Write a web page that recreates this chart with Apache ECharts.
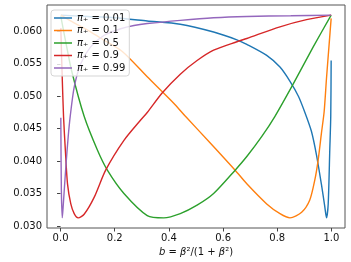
<!DOCTYPE html>
<html>
<head>
<meta charset="utf-8">
<script src="https://cdn.jsdelivr.net/npm/echarts@6/dist/echarts.min.js"></script>
<style>
html,body{margin:0;padding:0;background:#fff;}
#c{width:351px;height:262px;}
</style>
</head>
<body>
<div id="c"></div>
<script>
// ---- data ----
const seriesNames = ['0.01', '0.1', '0.5', '0.9', '0.99'];
const xTicks = [0.0, 0.2, 0.4, 0.6, 0.8, 1.0];
const yTicks = [0.030, 0.035, 0.040, 0.045, 0.050, 0.055, 0.060];

const bBlue = [0.001, 0.1, 0.2, 0.32, 0.442, 0.565, 0.651, 0.6875, 0.761, 0.81, 0.847, 0.878, 0.902, 0.926, 0.945, 0.963, 0.975, 0.9816, 0.988, 0.9938, 0.9974, 0.9989];
const vBlue = [0.0625, 0.0623, 0.0621, 0.0616, 0.0611, 0.0599, 0.0587, 0.0580, 0.0563, 0.0545, 0.0523, 0.0500, 0.0475, 0.0446, 0.0409, 0.0364, 0.0331, 0.03125, 0.0334, 0.0417, 0.0469, 0.0555];

const bOrange = [0.001, 0.05, 0.1, 0.15, 0.228, 0.32, 0.423, 0.461, 0.5526, 0.6445, 0.6875, 0.761, 0.81, 0.847, 0.89, 0.92, 0.9386, 0.951, 0.963, 0.973, 0.9816, 0.9914, 0.9989];
const vOrange = [0.0625, 0.0613, 0.0602, 0.0589, 0.0569, 0.0530, 0.0487, 0.0469, 0.0428, 0.0386, 0.0365, 0.0334, 0.0319, 0.03125, 0.0321, 0.0340, 0.0371, 0.0402, 0.0443, 0.0476, 0.0527, 0.0580, 0.0620];

const bGreen = [0.001, 0.02, 0.0404, 0.0871, 0.136, 0.1728, 0.234, 0.32, 0.381, 0.442, 0.504, 0.565, 0.6445, 0.6875, 0.743, 0.7915, 0.859, 0.9327, 0.9989];
const vGreen = [0.0623, 0.0582, 0.0540, 0.0469, 0.0417, 0.0386, 0.0350, 0.0316, 0.03125, 0.0319, 0.0332, 0.0350, 0.0386, 0.0407, 0.0438, 0.0469, 0.0519, 0.0576, 0.0625];

const bRed = [0.001, 0.003, 0.005, 0.011, 0.018, 0.0257, 0.0379, 0.0504, 0.065, 0.0871, 0.124, 0.1665, 0.234, 0.295, 0.32, 0.375, 0.442, 0.504, 0.565, 0.651, 0.6875, 0.81, 0.908, 0.9989];
const vRed = [0.0605, 0.0575, 0.0545, 0.0469, 0.0415, 0.0365, 0.0334, 0.0319, 0.03125, 0.0318, 0.0344, 0.0386, 0.0432, 0.0463, 0.0475, 0.0505, 0.0534, 0.0555, 0.0571, 0.0584, 0.0589, 0.0607, 0.0618, 0.0625];

const bPurple = [0.001, 0.003, 0.0065, 0.01, 0.0195, 0.0283, 0.0357, 0.0504, 0.0746, 0.111, 0.161, 0.222, 0.271, 0.32, 0.442, 0.565, 0.6875, 0.85, 0.9989];
const vPurple = [0.0467, 0.0355, 0.03125, 0.0332, 0.0391, 0.0438, 0.0469, 0.0514, 0.0550, 0.0576, 0.0594, 0.0604, 0.0609, 0.0612, 0.0617, 0.0621, 0.0623, 0.0624, 0.0625];

const colors = ['#1f77b4', '#ff7f0e', '#2ca02c', '#d62728', '#9467bd'];
const allB = [bBlue, bOrange, bGreen, bRed, bPurple];
const allV = [vBlue, vOrange, vGreen, vRed, vPurple];

const FONT = 'DejaVu Sans';
const chart = echarts.init(document.getElementById('c'), null, {renderer: 'canvas'});

const series = seriesNames.map((n, i) => ({
  name: n,
  type: 'line',
  data: allB[i].map((b, j) => [b, allV[i][j]]),
  showSymbol: false,
  symbol: 'none',
  smooth: 0.25,
  lineStyle: {color: colors[i], width: 1.4},
  itemStyle: {color: colors[i]},
  animation: false,
  z: 2
}));

chart.setOption({
  animation: false,
  backgroundColor: '#fff',
  grid: {left: 47, top: 5, right: 6, bottom: 34, containLabel: false, outerBoundsMode: 'none', show: true, borderColor: '#555', borderWidth: 1, backgroundColor: 'transparent'},
  xAxis: {
    type: 'value', min: -0.05, max: 1.05,
    name: '{i|b} = {i|β}²/(1 + {i|β}²)',
    nameLocation: 'middle', nameGap: 14,
    nameTextStyle: {fontFamily: FONT, fontSize: 10, color: '#111', rich: {i: {fontFamily: FONT, fontSize: 10, fontStyle: 'italic', color: '#111'}}},
    axisLine: {show: false},
    splitLine: {show: false},
    axisTick: {show: true, length: 3.5, lineStyle: {color: '#444'}, customValues: xTicks},
    axisLabel: {fontFamily: FONT, fontSize: 10, color: '#111', margin: 5, customValues: xTicks, formatter: v => v.toFixed(1)}
  },
  yAxis: {
    type: 'value', min: 0.0296875, max: 0.0640625,
    name: 'Fréchet variance',
    nameLocation: 'middle', nameGap: 33,
    nameTextStyle: {fontFamily: FONT, fontSize: 10, color: '#111'},
    axisLine: {show: false},
    splitLine: {show: false},
    axisTick: {show: true, length: 3.5, lineStyle: {color: '#444'}, customValues: yTicks},
    axisLabel: {fontFamily: FONT, fontSize: 10, color: '#111', margin: 5, customValues: yTicks, formatter: v => v.toFixed(3)}
  },
  legend: {
    show: true, orient: 'vertical', left: 51, top: 10,
    data: seriesNames.map((n, i) => ({name: n, icon: 'rect', itemStyle: {color: colors[i]}})),
    itemWidth: 18, itemHeight: 1.5, itemGap: 0.5,
    padding: [2, 4, 2, 3],
    backgroundColor: 'rgba(255,255,255,0.8)', borderColor: '#d5d5d5', borderWidth: 1, borderRadius: 3,
    formatter: n => '{i|π}₊ = ' + n,
    textStyle: {fontFamily: FONT, fontSize: 10, color: '#111', lineHeight: 12, rich: {i: {fontFamily: FONT, fontSize: 10, fontStyle: 'italic', color: '#111', lineHeight: 12}}},
    z: 10
  },
  series: series
});
</script>
</body>
</html>
